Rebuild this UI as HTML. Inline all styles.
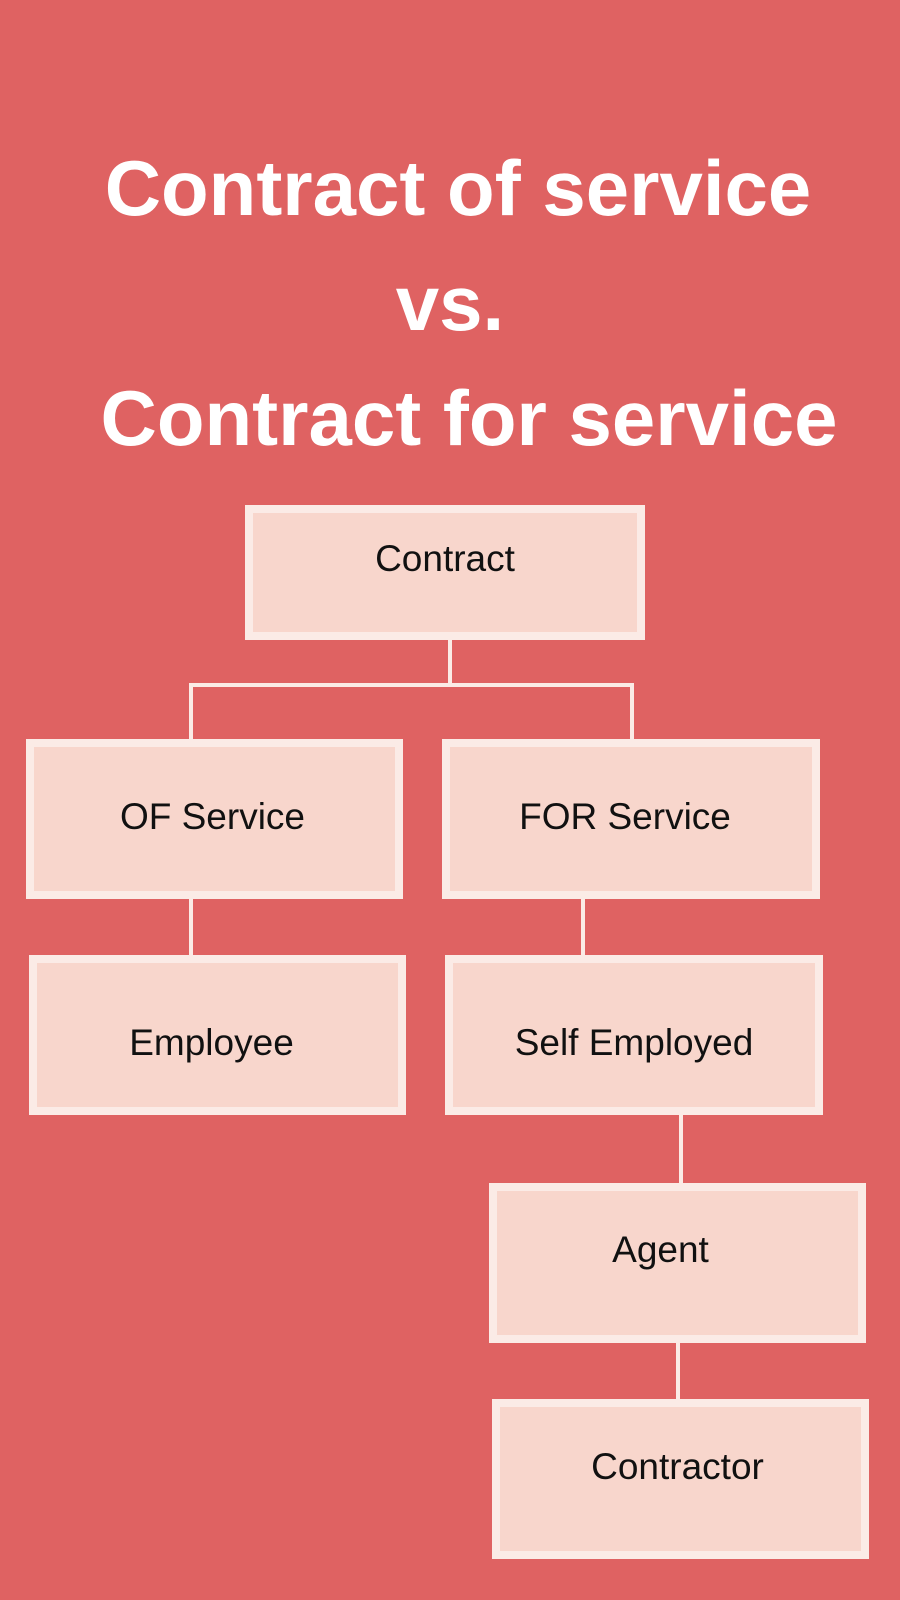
<!DOCTYPE html>
<html><head><meta charset="utf-8"><style>
body{margin:0;width:900px;height:1600px;background:#df6262;position:relative;overflow:hidden;font-family:"Liberation Sans",sans-serif}
.t{position:absolute;left:0;width:900px;text-align:center;color:#fff;font-weight:bold;font-size:78px;line-height:1}
.b{position:absolute;box-sizing:border-box;background:#f8d6cc;border:8px solid #fbebe6;display:flex;align-items:center;justify-content:center;font-size:37px;color:#111}
.b span{position:relative}
.l{position:absolute;background:#fbebe6}
</style></head><body>
<div class="t" style="top:149px;left:8px">Contract of service</div>
<div class="t" style="top:264px">vs.</div>
<div class="t" style="top:379px;left:19px">Contract for service</div>

<div class="l" style="left:448px;top:640px;width:4px;height:44px"></div>
<div class="l" style="left:189px;top:683px;width:445px;height:4px"></div>
<div class="l" style="left:189px;top:683px;width:4px;height:58px"></div>
<div class="l" style="left:630px;top:683px;width:4px;height:58px"></div>
<div class="l" style="left:189px;top:897px;width:4px;height:60px"></div>
<div class="l" style="left:581px;top:897px;width:4px;height:60px"></div>
<div class="l" style="left:679px;top:1113px;width:4px;height:72px"></div>
<div class="l" style="left:676px;top:1341px;width:4px;height:60px"></div>

<div class="b" style="left:245px;top:505px;width:400px;height:135px;align-items:flex-start;padding-top:25px"><span>Contract</span></div>
<div class="b" style="left:26px;top:739px;width:377px;height:160px"><span style="top:-2px;left:-2px">OF Service</span></div>
<div class="b" style="left:442px;top:739px;width:378px;height:160px"><span style="top:-2px;left:-6px">FOR Service</span></div>
<div class="b" style="left:29px;top:955px;width:377px;height:160px"><span style="top:8px;left:-6px">Employee</span></div>
<div class="b" style="left:445px;top:955px;width:378px;height:160px"><span style="top:8px">Self Employed</span></div>
<div class="b" style="left:489px;top:1183px;width:377px;height:160px"><span style="top:-13px;left:-17px">Agent</span></div>
<div class="b" style="left:492px;top:1399px;width:377px;height:160px"><span style="top:-12px;left:-3px">Contractor</span></div>
</body></html>
